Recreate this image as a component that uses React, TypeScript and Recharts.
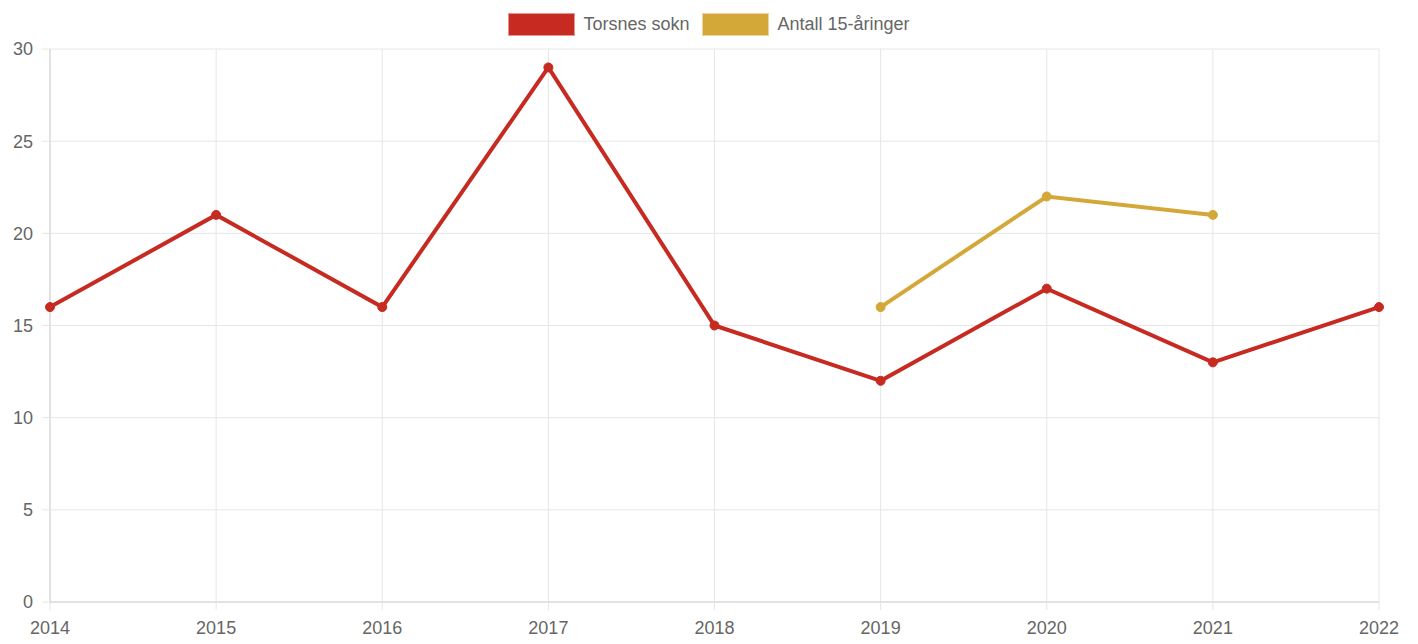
import React from "react";
import { LineChart, Line, XAxis, YAxis, CartesianGrid } from "recharts";

const years = ["2014", "2015", "2016", "2017", "2018", "2019", "2020", "2021", "2022"];
const torsnesSokn = [16, 21, 16, 29, 15, 12, 17, 13, 16];
const antall15 = [null, null, null, null, null, 16, 22, 21, null];
const yTicks = [0, 5, 10, 15, 20, 25, 30];

const RED = "#C62A21";
const GOLD = "#D4A838";
const FONT = "'Liberation Sans', Arial, sans-serif";

const data = years.map((year, i) => ({
  year,
  torsnes: torsnesSokn[i],
  antall: antall15[i],
}));

const legendItems = [
  { label: "Torsnes sokn", color: RED },
  { label: "Antall 15-åringer", color: GOLD },
];

// legenden tegnes som vanlig HTML over grafen, så den ikke spiser plass
function ChartLegend() {
  return (
    <div
      style={{
        position: "absolute",
        top: 13,
        left: 0,
        width: 1418,
        display: "flex",
        justifyContent: "center",
        gap: 13,
        fontFamily: FONT,
      }}
    >
      {legendItems.map((item) => (
        <div key={item.label} style={{ display: "flex", alignItems: "center" }}>
          <span
            style={{
              display: "inline-block",
              width: 65,
              height: 21,
              background: item.color,
              border: "1px solid rgba(255,255,255,0.5)",
              marginRight: 8,
            }}
          />
          <span style={{ fontSize: 18, color: "#666" }}>{item.label}</span>
        </div>
      ))}
    </div>
  );
}

export default function App() {
  return (
    <div style={{ position: "absolute", left: 0, top: 0, width: 1418, height: 644, background: "#fff" }}>
      <LineChart
        width={1418}
        height={644}
        data={data}
        margin={{ top: 49, right: 39, bottom: 0, left: 0 }}
      >
        <CartesianGrid stroke="#e6e6e6" strokeWidth={1} />
        <XAxis
          dataKey="year"
          height={42}
          axisLine={{ stroke: "#d0d0d0" }}
          tickLine={{ stroke: "#e6e6e6" }}
          tickSize={8}
          tickMargin={11}
          interval={0}
          tick={{ fill: "#666", fontSize: 18, fontFamily: FONT }}
        />
        <YAxis
          width={50}
          domain={[0, 30]}
          ticks={yTicks}
          axisLine={{ stroke: "#d0d0d0" }}
          tickLine={{ stroke: "#e6e6e6" }}
          tickSize={8}
          tickMargin={9}
          tick={{ fill: "#666", fontSize: 18, fontFamily: FONT }}
        />
        <Line
          type="linear"
          dataKey="torsnes"
          name="Torsnes sokn"
          stroke={RED}
          strokeWidth={4}
          dot={{ r: 4.5, fill: RED, stroke: RED, strokeWidth: 1 }}
          isAnimationActive={false}
        />
        <Line
          type="linear"
          dataKey="antall"
          name="Antall 15-åringer"
          stroke={GOLD}
          strokeWidth={4}
          dot={{ r: 4.5, fill: GOLD, stroke: GOLD, strokeWidth: 1 }}
          connectNulls={false}
          isAnimationActive={false}
        />
      </LineChart>
      <ChartLegend />
    </div>
  );
}
